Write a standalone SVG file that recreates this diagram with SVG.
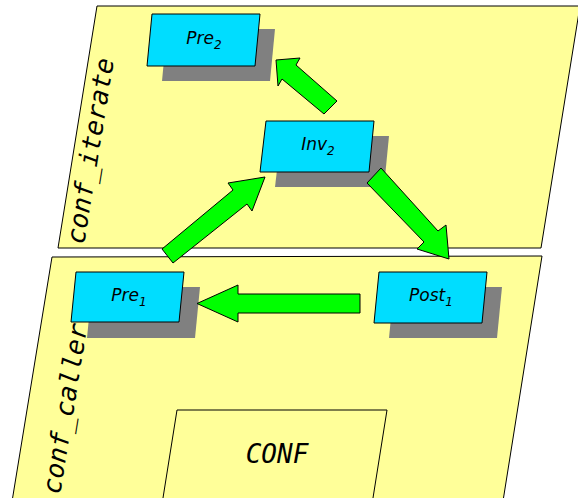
<svg xmlns="http://www.w3.org/2000/svg" width="578" height="498" viewBox="0 0 578 498">
<style>
.plane{fill:#ffff99;stroke:#000;stroke-width:1}
.shadow{fill:#808080;stroke:none}
.box{fill:#00ddff;stroke:#000;stroke-width:1}
.ntext{font-family:"DejaVu Sans",sans-serif;font-style:italic;font-size:17px;fill:#000}
.sub{font-size:12px}
.label{font-family:"DejaVu Sans Mono",monospace;font-style:italic;font-size:26px;fill:#000}
.arrow{fill:#00ff00;stroke:#000;stroke-width:1;stroke-linejoin:miter}
</style>
<rect width="578" height="498" fill="#fff"/>
<g id="conf_iterate">
<polygon class="plane" points="97,6 580,6 541,248 58,248"/>
<text class="label" transform="translate(84,245) rotate(-80.85)">conf_iterate</text>
</g>
<g id="conf_caller">
<polygon class="plane" points="52,257 542,256 500,520 9,520"/>
<text class="label" transform="translate(60,495) rotate(-80.85)">conf_caller</text>
</g>
<g id="CONF">
<polygon class="plane" points="177,410 387,410 369.5,520 159.5,520"/>
<text class="label" x="277" y="463" text-anchor="middle">CONF</text>
</g>
<g id="Pre2">
<polygon class="shadow" points="167,29 275,29 270,81 162,81"/>
<polygon class="box" points="152,14 260,14 255,66 147,66"/>
<text class="ntext" x="204" y="44" text-anchor="middle">Pre<tspan class="sub" dy="5">2</tspan></text>
</g>
<g id="Inv2">
<polygon class="shadow" points="281,136 389,136 384,187 275,187"/>
<polygon class="box" points="266,121 374,121 369,172 260,172"/>
<text class="ntext" x="318" y="150" text-anchor="middle">Inv<tspan class="sub" dy="5">2</tspan></text>
</g>
<g id="Pre1">
<polygon class="shadow" points="92,287 200,287 195,338 87,338"/>
<polygon class="box" points="76,272 184,272 179,322 71,322"/>
<text class="ntext" x="129" y="301" text-anchor="middle">Pre<tspan class="sub" dy="5">1</tspan></text>
</g>
<g id="Post1">
<polygon class="shadow" points="394,287 502,287 497,338 389,338"/>
<polygon class="box" points="379,272 487,272 482,323 374,323"/>
<text class="ntext" x="431" y="301" text-anchor="middle">Post<tspan class="sub" dy="5">1</tspan></text>
</g>
<g id="connectors">
<polygon class="arrow" points="337,101 296,65 300,58 276,60 278,86 282,79 324,114"/>
<polygon class="arrow" points="381,168 438,231 446,225 449,259 417,249 424,242 367,183"/>
<polygon class="arrow" points="162,249 233,190 228,183 265,177 252,211 247,204 173,263"/>
<polygon class="arrow" points="360,294 238,294 238,285 197,303.5 238,322 238,313 360,313"/>
</g>
</svg>
